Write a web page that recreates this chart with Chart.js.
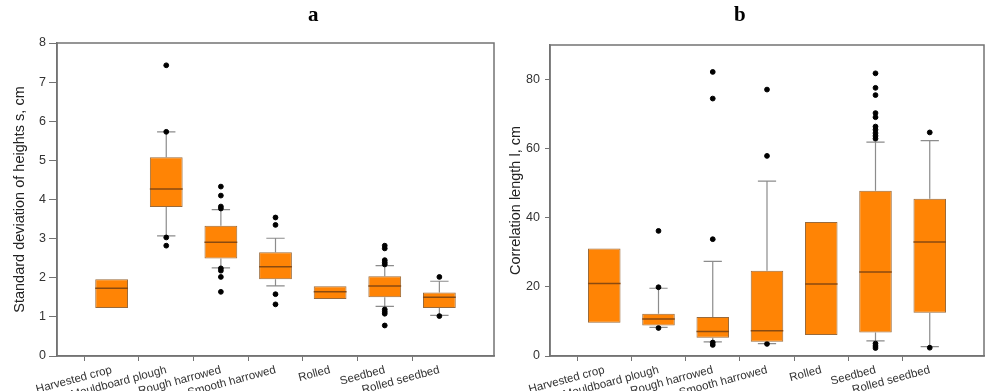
<!DOCTYPE html>
<html>
<head>
<meta charset="utf-8">
<script src="https://cdn.jsdelivr.net/npm/chart.js@4.4.1/dist/chart.umd.min.js"></script>
<style>
  body { margin: 0; background: #fff; width: 1000px; height: 391px; overflow: hidden; position: relative; }
  .panel { position: absolute; top: 0; width: 500px; height: 391px; }
  .tag { position: absolute; top: 2px; font: bold 21px "Liberation Serif", "DejaVu Serif", serif; color: #000; }
</style>
</head>
<body>
<div class="panel" style="left:0"><canvas id="chart-a" width="500" height="391"></canvas></div>
<div class="panel" style="left:500px"><canvas id="chart-b" width="500" height="391"></canvas></div>
<div class="tag" style="left:308px">a</div>
<div class="tag" style="left:734px">b</div>
<script>
const categories = ["Harvested crop", "Mouldboard plough", "Rough harrowed", "Smooth harrowed", "Rolled", "Seedbed", "Rolled seedbed"];

// panel a: standard deviation of heights (cm)
const sdQ1 = [1.23, 3.81, 2.49, 1.96, 1.46, 1.50, 1.23];
const sdMedian = [1.73, 4.27, 2.91, 2.28, 1.64, 1.79, 1.50];
const sdQ3 = [1.96, 5.08, 3.33, 2.65, 1.78, 2.04, 1.62];
const sdLow = [null, 3.07, 2.25, 1.79, null, 1.27, 1.04];
const sdHigh = [null, 5.73, 3.74, 3.01, null, 2.31, 1.91];
const sdOutliers = [
    [],
    [7.43, 5.73, 3.03, 2.82],
    [4.33, 4.10, 3.82, 3.77, 2.24, 2.18, 2.02, 1.64],
    [3.54, 3.35, 1.58, 1.32],
    [],
    [2.82, 2.75, 2.45, 2.39, 2.34, 1.19, 1.13, 1.08, 0.78],
    [2.02, 1.02]
];

// panel b: correlation length (cm)
const clQ1 = [9.6, 8.8, 5.3, 4.1, 6.1, 6.8, 12.5];
const clMedian = [21.0, 10.7, 7.1, 7.3, 20.8, 24.3, 33.0];
const clQ3 = [31.1, 12.2, 11.3, 24.7, 38.8, 47.8, 45.5];
const clLow = [null, 8.3, 4.1, 3.6, null, 4.4, 2.7];
const clHigh = [null, 19.6, 27.4, 50.6, null, 61.9, 62.3];
const clOutliers = [
    [],
    [36.2, 19.9, 8.1],
    [82.2, 74.5, 33.8, 3.9, 3.2],
    [77.1, 57.9, 3.5],
    [],
    [81.8, 77.6, 75.5, 70.3, 69.1, 66.4, 65.5, 64.5, 63.7, 62.9, 3.6, 2.9, 2.3],
    [64.7, 2.4]
];

const FONT = "'Liberation Sans', Arial, sans-serif";
const TEXT = "#333";
const FRAME = "#737373";

// whiskers under the boxes, medians and frame over them
const boxExtras = {
    id: "boxExtras",
    beforeDatasetsDraw(chart, args, opts) {
        const ctx = chart.ctx;
        const y = chart.scales.y;
        const bars = chart.getDatasetMeta(0).data;
        ctx.save();
        ctx.strokeStyle = "#8c8c8c";
        ctx.lineWidth = 1.2;
        opts.low.forEach((lo, i) => {
            const bar = bars[i + 1];
            if (lo === null || !bar) return;
            const cap = bar.width * 0.28;
            [[lo, opts.q1[i]], [opts.high[i], opts.q3[i]]].forEach(([end, edge]) => {
                ctx.beginPath();
                ctx.moveTo(bar.x, y.getPixelForValue(edge));
                ctx.lineTo(bar.x, y.getPixelForValue(end));
                ctx.moveTo(bar.x - cap, y.getPixelForValue(end));
                ctx.lineTo(bar.x + cap, y.getPixelForValue(end));
                ctx.stroke();
            });
        });
        ctx.restore();
    },
    afterDatasetsDraw(chart, args, opts) {
        const ctx = chart.ctx;
        const y = chart.scales.y;
        const bars = chart.getDatasetMeta(0).data;
        ctx.save();
        ctx.strokeStyle = "#8a4a10";
        ctx.lineWidth = 1.5;
        opts.median.forEach((m, i) => {
            const bar = bars[i + 1];
            const py = y.getPixelForValue(m);
            ctx.beginPath();
            ctx.moveTo(bar.x - bar.width / 2, py);
            ctx.lineTo(bar.x + bar.width / 2, py);
            ctx.stroke();
        });
        const a = chart.chartArea;
        ctx.strokeStyle = FRAME;
        ctx.lineWidth = 1.5;
        ctx.strokeRect(a.left, a.top, a.right - a.left, a.bottom - a.top);
        ctx.restore();
    }
};

function makeBoxChart(id, q1, median, q3, low, high, outliers, yMax, yStep, yTitle, pad, axisW) {
    const labels = ["", ...categories, ""];
    const boxes = [null, ...categories.map((c, i) => [q1[i], q3[i]]), null];
    const dots = [];
    outliers.forEach((list, i) => list.forEach(v => dots.push({ x: categories[i], y: v })));

    return new Chart(document.getElementById(id), {
        type: "bar",
        data: {
            labels: labels,
            datasets: [
                {
                    data: boxes,
                    backgroundColor: "#ff8405",
                    borderColor: "#9a6a3a",
                    borderWidth: 1,
                    borderSkipped: false,
                    barPercentage: 0.6,
                    categoryPercentage: 1,
                    grouped: false
                },
                {
                    type: "scatter",
                    data: dots,
                    backgroundColor: "#000",
                    borderColor: "#000",
                    pointRadius: 2.4,
                    pointHoverRadius: 2.4
                }
            ]
        },
        options: {
            responsive: false,
            devicePixelRatio: 1,
            animation: false,
            layout: { padding: pad },
            plugins: {
                legend: { display: false },
                tooltip: { enabled: false },
                boxExtras: { q1: q1, median: median, q3: q3, low: low, high: high }
            },
            scales: {
                x: {
                    type: "category",
                    offset: false,
                    grid: {
                        drawOnChartArea: false,
                        tickLength: 5,
                        tickColor: ctx => (ctx.tick && ctx.tick.label) ? FRAME : "rgba(0,0,0,0)",
                        color: ctx => (ctx.tick && ctx.tick.label) ? FRAME : "rgba(0,0,0,0)"
                    },
                    border: { color: FRAME, width: 1.5 },
                    ticks: {
                        autoSkip: false,
                        minRotation: 15,
                        maxRotation: 15,
                        padding: 2,
                        color: TEXT,
                        font: { family: FONT, size: 11.5 }
                    },
                    afterFit: s => { s.height = 35; }
                },
                y: {
                    min: 0,
                    max: yMax,
                    afterBuildTicks: s => { s.ticks = s.ticks.filter(t => t.value % yStep === 0); },
                    grid: { drawOnChartArea: false, tickLength: axisW.tick, tickColor: FRAME },
                    border: { color: FRAME, width: 1.5 },
                    ticks: {
                        stepSize: yStep,
                        padding: axisW.gap,
                        color: TEXT,
                        font: { family: FONT, size: 12.5 }
                    },
                    title: {
                        display: true,
                        text: yTitle,
                        color: "#222",
                        padding: { top: 4, bottom: 0 },
                        font: { family: FONT, size: 14.5 }
                    },
                    afterFit: s => { s.width = axisW.width; }
                }
            }
        },
        plugins: [boxExtras]
    });
}

makeBoxChart("chart-a", sdQ1, sdMedian, sdQ3, sdLow, sdHigh, sdOutliers, 8, 1,
    "Standard deviation of heights s, cm",
    { left: 7, right: 6, top: 43, bottom: 0 },
    { width: 50, tick: 8, gap: 3 });

makeBoxChart("chart-b", clQ1, clMedian, clQ3, clLow, clHigh, clOutliers, 90, 20,
    "Correlation length l, cm",
    { left: 3, right: 16, top: 45, bottom: 0 },
    { width: 47, tick: 5, gap: 5 });
</script>
</body>
</html>
